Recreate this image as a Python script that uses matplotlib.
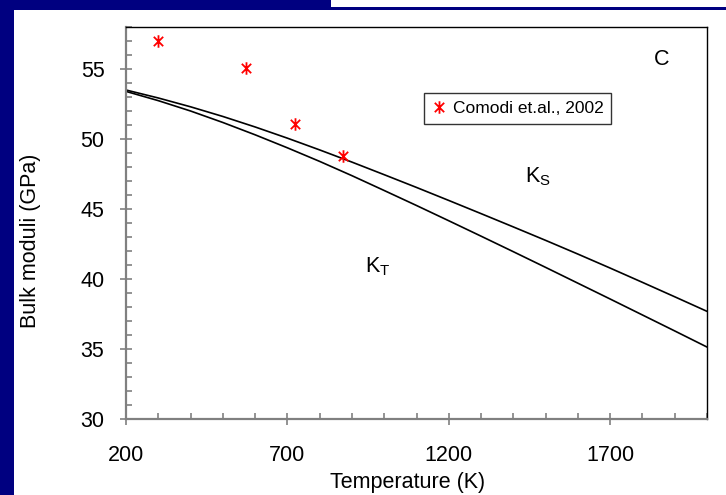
import matplotlib
matplotlib.use("Agg")
import matplotlib.pyplot as plt
from matplotlib.patches import Rectangle
from matplotlib.path import Path

plt.rcParams["font.family"] = ["Liberation Sans", "DejaVu Sans"]
plt.rcParams["mathtext.fontset"] = "custom"
plt.rcParams["mathtext.rm"] = "Liberation Sans"
plt.rcParams["mathtext.it"] = "Liberation Sans"

# curves
temperature = [200, 300, 400, 500, 600, 700, 800, 900, 1000, 1100,
               1200, 1300, 1400, 1500, 1600, 1700, 1800, 1900, 2000]
k_s = [53.5, 52.93, 52.30, 51.61, 50.86, 50.06, 49.22, 48.35, 47.45, 46.54,
       45.61, 44.67, 43.72, 42.76, 41.78, 40.78, 39.76, 38.73, 37.69]
k_t = [53.4, 52.74, 52.00, 51.18, 50.30, 49.37, 48.40, 47.38, 46.32, 45.25,
       44.16, 43.06, 41.95, 40.83, 39.70, 38.57, 37.43, 36.29, 35.14]

# experimental points
comodi_t = [298, 572, 723, 871]
comodi_k = [57.0, 55.05, 51.05, 48.82]

x_ticks = [200, 700, 1200, 1700]
y_ticks = [30, 35, 40, 45, 50, 55]

# asterisk drawn as an X with a vertical bar
star = Path([(0, -1), (0, 1), (-0.75, -0.75), (0.75, 0.75),
             (-0.75, 0.75), (0.75, -0.75)],
            [Path.MOVETO, Path.LINETO] * 3)

W, H = 726, 495
fig = plt.figure(figsize=(W / 100, H / 100), dpi=100)
navy = "#000080"
fig.add_artist(Rectangle((0, 0), 14 / W, 1, transform=fig.transFigure,
                         color=navy, lw=0, zorder=-1))
fig.add_artist(Rectangle((0, 1 - 10 / H), 331 / W, 10 / H,
                         transform=fig.transFigure, color=navy, lw=0,
                         zorder=-1))
fig.add_artist(Rectangle((0, 1 - 10 / H), 1, 3 / H,
                         transform=fig.transFigure, color=navy, lw=0,
                         zorder=-1))

ax = fig.add_axes([126 / W, 76 / H, 581 / W, 392 / H])
ax.plot(temperature, k_s, color="black", lw=1.2)
ax.plot(temperature, k_t, color="black", lw=1.2)
ax.plot(comodi_t, comodi_k, linestyle="none", marker=star,
        color="red", markerfacecolor="none", markersize=9,
        markeredgewidth=1.3, label="Comodi et.al., 2002")

ax.set_xlim(200, 2000)
ax.set_ylim(30, 58)
ax.set_xticks(x_ticks)
ax.set_yticks(y_ticks)
ax.set_xticks(range(200, 2001, 100), minor=True)
ax.set_yticks(range(30, 59), minor=True)
ax.tick_params(which="major", direction="inout", length=9, width=1.2,
               color="#808080", labelsize=15.5)
ax.tick_params(which="minor", direction="in", length=4, width=1.2,
               color="#808080")
ax.tick_params(axis="x", which="major", pad=14)
ax.tick_params(axis="y", which="major", pad=11)

for side in ("left", "bottom"):
    ax.spines[side].set_color("#808080")
    ax.spines[side].set_linewidth(1.6)
for side in ("top", "right"):
    ax.spines[side].set_color("black")
    ax.spines[side].set_linewidth(1.0)

ax.set_xlabel("Temperature (K)", fontsize=15.5)
ax.set_ylabel("Bulk moduli (GPa)", fontsize=15.5, va="center")
ax.xaxis.set_label_coords(0.484, -0.135)
ax.yaxis.set_label_coords(-0.165, 0.455)

ax.text(1858, 55.66, "C", fontsize=15.5, ha="center", va="center")
ax.text(1436, 46.91, r"K$_{\mathrm{S}}$", fontsize=15.5, ha="left",
        va="baseline")
ax.text(940, 40.49, r"K$_{\mathrm{T}}$", fontsize=15.5, ha="left",
        va="baseline")

leg = ax.legend(loc="upper left", bbox_to_anchor=(0.513, 0.832),
                fontsize=12.5, frameon=True, fancybox=False,
                handlelength=0.8, handletextpad=0.4, borderpad=0.45,
                borderaxespad=0)
leg.get_frame().set_edgecolor("black")
leg.get_frame().set_linewidth(1.0)

fig.savefig("out.png", dpi=100)
